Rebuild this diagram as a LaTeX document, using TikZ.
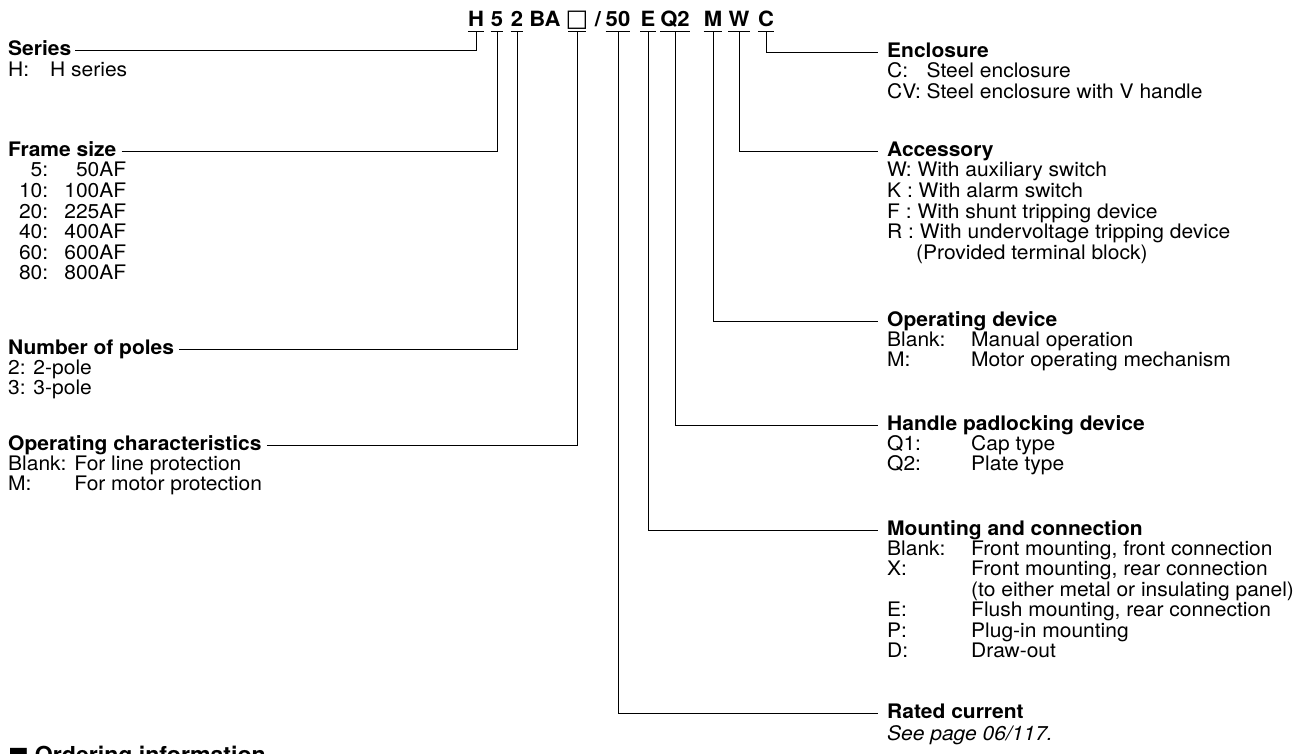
\documentclass[tikz,border=0pt]{standalone}
\usepackage{fontspec}
\setmainfont[FakeStretch=1.05]{TeX Gyre Heros}
\newfontfamily\dejavu{DejaVu Sans}
\usetikzlibrary{calc}
\newcommand{\lb}[2]{\makebox[#1][l]{#2}}
\tikzset{
  txt/.style={inner sep=0pt, anchor=base west, font=\fontsize{20}{20}\selectfont},
  head/.style={txt, font=\fontsize{20}{20}\selectfont\bfseries},
  code/.style={inner sep=0pt, anchor=base, font=\fontsize{21}{24}\selectfont\bfseries},
  conn/.style={line width=1pt, black},
}
\begin{document}
\begin{tikzpicture}[x=1pt,y=-1pt]
\useasboundingbox (0,0) rectangle (1296,754);
\clip (0,0) rectangle (1296,754);
% code line
\node[code] (cH) at (476,27) {H};
\node[code] (c5) at (497,27) {5};
\node[code] (c2) at (517,27) {2};
\node[code] (cBA) at (545,27) {BA};
\node[code] (cBox) at (577,27) {\dejavu\mdseries\fontsize{24}{26}\selectfont □};
\node[code] (cSl) at (598,27) {/};
\node[code] (c50) at (618,27) {50};
\node[code] (cE) at (648,27) {E};
\node[code] (cQ) at (675,27) {Q2};
\node[code] (cM) at (713,27) {M};
\node[code] (cW) at (739,27) {W};
\node[code] (cC) at (766,27) {C};
\foreach \c in {cH,c5,c2,c50,cE,cQ,cM,cW,cC}{
  \draw[conn] ([yshift=-5pt]\c.base west) -- ([yshift=-5pt]\c.base east);
}
\draw[conn] ([xshift=-9pt,yshift=-5pt]cBox.base) -- ([xshift=9pt,yshift=-5pt]cBox.base);

% left headings
\node[head] (hSer) at (8,56) {Series};
\node[txt] (rSer) at (8,77) {\lb{42pt}{H:}H series};
\node[head] (hFra) at (8,157) {Frame size};
\node[txt] (rFra) at (8,177) {\begin{tabular}[t]{@{}l@{}}
\makebox[40pt][r]{5:}\makebox[78pt][r]{50AF}\\
\makebox[40pt][r]{10:}\makebox[78pt][r]{100AF}\\
\makebox[40pt][r]{20:}\makebox[78pt][r]{225AF}\\
\makebox[40pt][r]{40:}\makebox[78pt][r]{400AF}\\
\makebox[40pt][r]{60:}\makebox[78pt][r]{600AF}\\
\makebox[40pt][r]{80:}\makebox[78pt][r]{800AF}
\end{tabular}};
\node[head] (hPol) at (8,354) {Number of poles};
\node[txt] (rPol) at (8,374) {\begin{tabular}[t]{@{}l@{}}2: 2-pole\\3: 3-pole\end{tabular}};
\node[head] (hOpc) at (8,450) {Operating characteristics};
\node[txt] (rOpc) at (8,470) {\begin{tabular}[t]{@{}l@{ }l@{}}Blank: & For line protection\\M: & For motor protection\end{tabular}};

% right headings
\node[head] (hEnc) at (887,58) {Enclosure};
\node[txt] (rEnc) at (887,78) {\begin{tabular}[t]{@{}l@{ }l@{}}C: & Steel enclosure\\CV: & Steel enclosure with V handle\end{tabular}};
\node[head] (hAcc) at (887,157) {Accessory};
\node[txt] (rAcc) at (887,177) {\begin{tabular}[t]{@{}l@{}}W: With auxiliary switch\\K : With alarm switch\\F : With shunt tripping device\\R : With undervoltage tripping device\\\hspace{29pt}(Provided terminal block)\end{tabular}};
\node[head] (hOpd) at (887,326) {Operating device};
\node[txt] (rOpd) at (887,346) {\begin{tabular}[t]{@{}l@{}}\lb{84pt}{Blank:}Manual operation\\\lb{84pt}{M:}Motor operating mechanism\end{tabular}};
\node[head] (hHan) at (887,430) {Handle padlocking device};
\node[txt] (rHan) at (887,450) {\begin{tabular}[t]{@{}l@{}}\lb{84pt}{Q1:}Cap type\\\lb{84pt}{Q2:}Plate type\end{tabular}};
\node[head] (hMou) at (887,535) {Mounting and connection};
\node[txt] (rMou) at (887,555) {\begin{tabular}[t]{@{}l@{}}\lb{84pt}{Blank:}Front mounting, front connection\\
\lb{84pt}{X:}Front mounting, rear connection\\
\lb{84pt}{}(to either metal or insulating panel)\\
\lb{84pt}{E:}Flush mounting, rear connection\\
\lb{84pt}{P:}Plug-in mounting\\
\lb{84pt}{D:}Draw-out\end{tabular}};
\node[head] (hRat) at (887,718) {Rated current};
\node[txt] (rRat) at (887,740) {\itshape See page 06/117.};

% bottom title (cut off as in the reference)
\node[txt, font=\fontsize{22}{24}\selectfont\bfseries] (ord) at (8,762) {{\dejavu ■}\hspace{6pt}Ordering information};

% connectors
\draw[conn] ($(hSer.base east)+(4,-5)$) -| ([yshift=-5pt]cH.base);
\draw[conn] ($(hFra.base east)+(5,-5)$) -| ([yshift=-5pt]c5.base);
\draw[conn] ($(hPol.base east)+(5,-5)$) -| ([yshift=-5pt]c2.base);
\draw[conn] ($(hOpc.base east)+(5,-5)$) -| ([yshift=-5pt]cBox.base);
\draw[conn] ([yshift=-5pt]cC.base) |- ($(hEnc.base west)+(-9,-5)$);
\draw[conn] ([yshift=-5pt]cW.base) |- ($(hAcc.base west)+(-9,-5)$);
\draw[conn] ([yshift=-5pt]cM.base) |- ($(hOpd.base west)+(-9,-5)$);
\draw[conn] ([yshift=-5pt]cQ.base) |- ($(hHan.base west)+(-9,-5)$);
\draw[conn] ([yshift=-5pt]cE.base) |- ($(hMou.base west)+(-9,-5)$);
\draw[conn] ([yshift=-5pt]c50.base) |- ($(hRat.base west)+(-9,-5)$);
\end{tikzpicture}
\end{document}
